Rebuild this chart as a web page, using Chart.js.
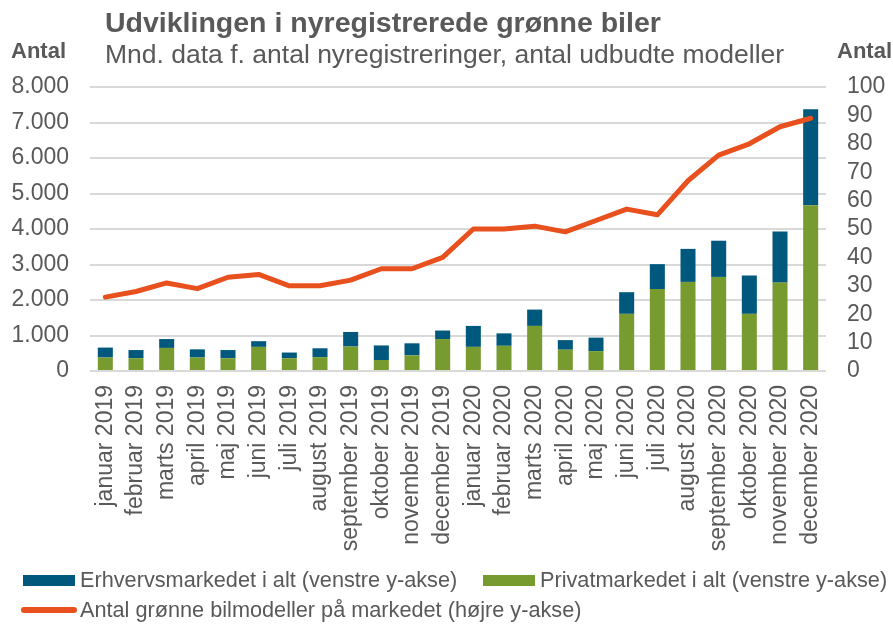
<!DOCTYPE html>
<html>
<head>
<meta charset="utf-8">
<script src="https://cdn.jsdelivr.net/npm/chart.js@4.4.1/dist/chart.umd.min.js"></script>
<style>
  html, body { margin: 0; padding: 0; background: #fff; }
  #wrap { position: relative; width: 893px; height: 626px; font-family: "Liberation Sans", Arial, sans-serif; color: #595959; }
  canvas { position: absolute; left: 0; top: 0; }
  .txt { position: absolute; white-space: nowrap; line-height: 1; }
  #title { left: 105px; top: 8px; font-size: 28.5px; font-weight: bold; }
  #subtitle { left: 105px; top: 41px; font-size: 26.5px; }
  #antalL { left: 11px; top: 40px; font-size: 22px; font-weight: bold; }
  #antalR { left: 837px; top: 40px; font-size: 22px; font-weight: bold; }
  .leg { position: absolute; display: flex; align-items: center; font-size: 21.7px; white-space: nowrap; height: 24px; }
  .box { width: 52px; height: 11px; margin-right: 5px; }
  .lineBox { width: 56px; height: 6px; border-radius: 3px; margin-right: 3px; }
</style>
</head>
<body>
<div id="wrap">
  <canvas id="c" width="893" height="626"></canvas>
  <div class="txt" id="title">Udviklingen i nyregistrerede grønne biler</div>
  <div class="txt" id="subtitle">Mnd. data f. antal nyregistreringer, antal udbudte modeller</div>
  <div class="txt" id="antalL">Antal</div>
  <div class="txt" id="antalR">Antal</div>
  <div class="leg" style="left:23px; top:568px;"><div class="box" style="background:#00587C"></div>Erhvervsmarkedet i alt (venstre y-akse)</div>
  <div class="leg" style="left:483px; top:568px;"><div class="box" style="background:#779B2F"></div>Privatmarkedet i alt (venstre y-akse)</div>
  <div class="leg" style="left:21px; top:598px;"><div class="lineBox" style="background:#E8501E"></div>Antal grønne bilmodeller på markedet (højre y-akse)</div>
</div>
<script>
const categories = [
  "januar 2019","februar 2019","marts 2019","april 2019","maj 2019","juni 2019",
  "juli 2019","august 2019","september 2019","oktober 2019","november 2019","december 2019",
  "januar 2020","februar 2020","marts 2020","april 2020","maj 2020","juni 2020",
  "juli 2020","august 2020","september 2020","oktober 2020","november 2020","december 2020"
];
const privatmarkedet = [380, 360, 650, 380, 360, 680, 360, 390, 690, 310, 440, 900,
                        680, 710, 1270, 600, 560, 1610, 2310, 2510, 2650, 1610, 2490, 4670];
const erhvervsmarkedet = [280, 230, 250, 230, 230, 160, 160, 250, 410, 410, 340, 240,
                          590, 350, 460, 270, 380, 610, 700, 930, 1020, 1080, 1440, 2700];
const antalModeller = [26, 28, 31, 29, 33, 34, 30, 30, 32, 36, 36, 40,
                       50, 50, 51, 49, 53, 57, 55, 67, 76, 80, 86, 89];
const leftTicks = { min: 0, max: 8000, step: 1000 };
const rightTicks = { min: 0, max: 100, step: 10 };

const FONT = '"Liberation Sans", Arial, sans-serif';
const GRAY = '#595959';

new Chart(document.getElementById('c'), {
  type: 'bar',
  data: {
    labels: categories,
    datasets: [
      { label: 'Privatmarkedet i alt (venstre y-akse)', data: privatmarkedet, backgroundColor: '#779B2F',
        stack: 's', yAxisID: 'y', order: 1, categoryPercentage: 1, barPercentage: 0.49 },
      { label: 'Erhvervsmarkedet i alt (venstre y-akse)', data: erhvervsmarkedet, backgroundColor: '#00587C',
        stack: 's', yAxisID: 'y', order: 1, categoryPercentage: 1, barPercentage: 0.49 },
      { type: 'line', label: 'Antal grønne bilmodeller på markedet (højre y-akse)', data: antalModeller,
        borderColor: '#E8501E', backgroundColor: '#E8501E', borderWidth: 5, pointRadius: 0,
        borderCapStyle: 'round', borderJoinStyle: 'round', tension: 0, yAxisID: 'y1', order: 0 }
    ]
  },
  options: {
    responsive: false,
    animation: false,
    events: [],
    layout: { padding: { top: 87, bottom: 0, left: 0, right: 0 } },
    plugins: { legend: { display: false }, tooltip: { enabled: false }, title: { display: false } },
    scales: {
      x: {
        stacked: true,
        grid: { display: false },
        border: { display: false },
        ticks: { color: GRAY, font: { family: FONT, size: 23 }, minRotation: 90, maxRotation: 90, padding: 6, autoSkip: false },
        afterFit: (s) => { s.height = 255; }
      },
      y: {
        stacked: true, position: 'left',
        min: leftTicks.min, max: leftTicks.max,
        grid: { color: '#D9D9D9', lineWidth: 2, drawTicks: false },
        border: { display: false },
        ticks: { stepSize: leftTicks.step, autoSkip: false, color: GRAY, font: { family: FONT, size: 23 }, padding: 21,
          callback: (v) => v.toLocaleString('da-DK').replace(/,/g, '.') },
        afterFit: (s) => { s.width = 90; }
      },
      y1: {
        position: 'right',
        min: rightTicks.min, max: rightTicks.max,
        grid: { drawOnChartArea: false, drawTicks: false },
        border: { display: false },
        ticks: { stepSize: rightTicks.step, autoSkip: false, color: GRAY, font: { family: FONT, size: 23 }, padding: 21 },
        afterFit: (s) => { s.width = 67; }
      }
    }
  }
});
</script>
</body>
</html>
